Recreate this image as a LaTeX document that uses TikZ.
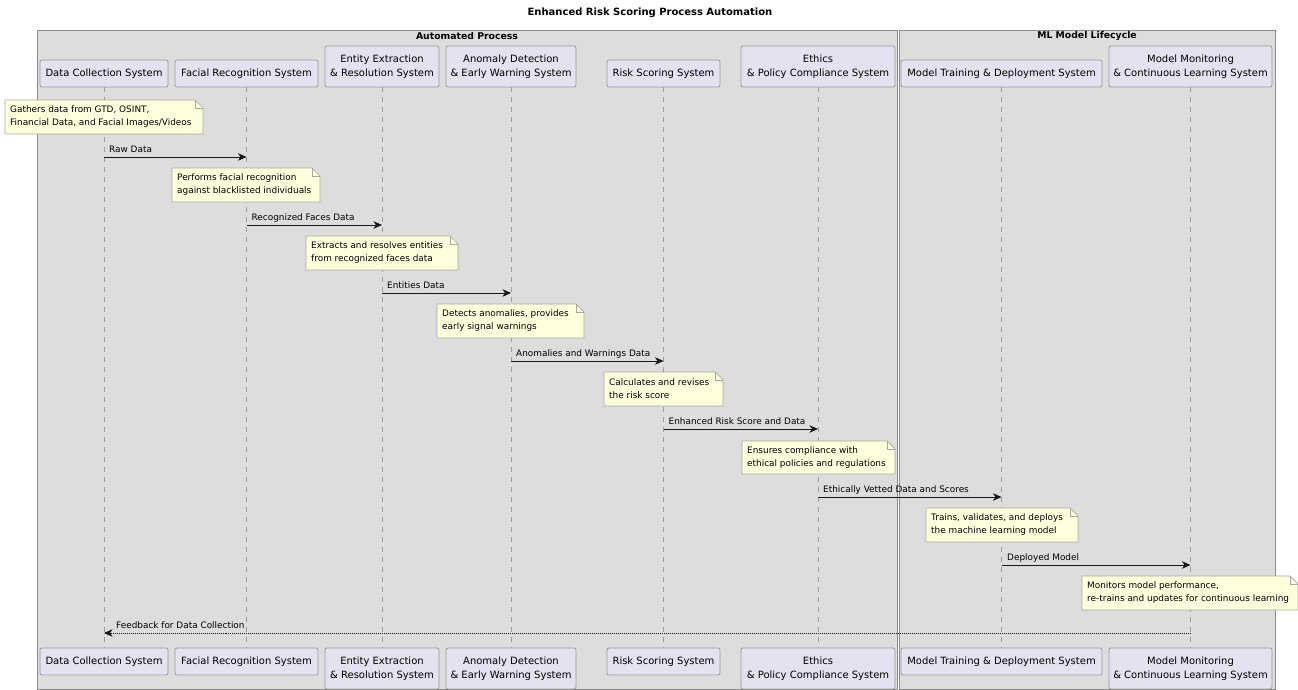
\documentclass[tikz,border=0pt]{standalone}
\usepackage{fontspec}
\setmainfont{DejaVu Sans}
\usetikzlibrary{arrows.meta}
\definecolor{partfill}{HTML}{E2E2F0}
\definecolor{partline}{HTML}{9A9A9A}
\definecolor{boxfill}{HTML}{DDDDDD}
\definecolor{boxline}{HTML}{8C8C8C}
\definecolor{notefill}{HTML}{FEFFDD}
\definecolor{noteline}{HTML}{A8A8A0}
\definecolor{lifecol}{HTML}{9C9C9C}
\definecolor{ink}{HTML}{181818}

% folded-corner note: name, x1, y1, x2, y2, text
\newcommand\foldnote[6]{%
  \path[notebody] (#2,#3) -- (#4-8,#3) -- (#4,#3+8) -- (#4,#5) -- (#2,#5) -- cycle;
  \draw[notebody, fill=none] (#4-8,#3) -- (#4-8,#3+8) -- (#4,#3+8);
  \node[notetext] (#1) at (#2+5,{(#3+#5)/2}) {#6};}

\begin{document}
\begin{tikzpicture}[x=1pt,y=-1pt,
  part/.style={draw=partline, fill=partfill, rounded corners=2pt, line width=0.8pt,
    align=center, font=\fontsize{10}{14}\selectfont, inner sep=0pt, minimum height=27pt},
  part2/.style={part, minimum height=41pt},
  msg/.style={draw=ink, line width=0.8pt, -{Stealth[length=8.5pt,width=7.5pt,inset=2.5pt]}},
  reply/.style={msg, dash pattern=on 1pt off 1pt},
  msglabel/.style={font=\fontsize{8.9}{12}\selectfont, inner sep=0pt, anchor=base west},
  notetext/.style={font=\fontsize{8.9}{13}\selectfont, align=left, inner sep=0pt, anchor=west},
  notebody/.style={fill=notefill, draw=noteline, line width=0.7pt},
  lifeline/.style={draw=lifecol, dash pattern=on 5pt off 5pt, line width=0.7pt},
  frame/.style={fill=boxfill, draw=boxline, line width=0.9pt},
  frametitle/.style={font=\bfseries\fontsize{9.3}{12}\selectfont, inner sep=0pt}]

\useasboundingbox[fill=white] (0,0) rectangle (1298,690);

% title
\node[font=\bfseries\fontsize{10}{12}\selectfont, inner sep=0pt] (title) at (650,13) {Enhanced Risk Scoring Process Automation};

% grouping boxes
\path[frame] (37,30) rectangle (897,689.5);
\path[frame] (899,30) rectangle (1275.5,689.5);
\node[frametitle] (grpA) at (467,36) {Automated Process};
\node[frametitle] (grpB) at (1087,36) {ML Model Lifecycle};

% participants, top row
\node[part, minimum width=128pt] (dcT) at (104,73.5) {Data Collection System};
\node[part, minimum width=143pt] (frT) at (246.5,73.5) {Facial Recognition System};
\node[part2, minimum width=114pt] (eeT) at (382,66.5) {Entity Extraction\\\& Resolution System};
\node[part2, minimum width=130pt] (adT) at (511,66.5) {Anomaly Detection\\\& Early Warning System};
\node[part, minimum width=113pt] (rsT) at (663.5,73.5) {Risk Scoring System};
\node[part2, minimum width=154pt] (ecT) at (818,66.5) {Ethics\\\& Policy Compliance System};
\node[part, minimum width=201pt] (mtT) at (1001.5,73.5) {Model Training \& Deployment System};
\node[part2, minimum width=163pt] (mmT) at (1190.5,66.5) {Model Monitoring\\\& Continuous Learning System};

% participants, bottom row
\node[part, minimum width=128pt] (dcB) at (104,661.5) {Data Collection System};
\node[part, minimum width=143pt] (frB) at (246.5,661.5) {Facial Recognition System};
\node[part2, minimum width=114pt] (eeB) at (382,668.5) {Entity Extraction\\\& Resolution System};
\node[part2, minimum width=130pt] (adB) at (511,668.5) {Anomaly Detection\\\& Early Warning System};
\node[part, minimum width=113pt] (rsB) at (663.5,661.5) {Risk Scoring System};
\node[part2, minimum width=154pt] (ecB) at (818,668.5) {Ethics\\\& Policy Compliance System};
\node[part, minimum width=201pt] (mtB) at (1001.5,661.5) {Model Training \& Deployment System};
\node[part2, minimum width=163pt] (mmB) at (1190.5,668.5) {Model Monitoring\\\& Continuous Learning System};

% lifelines
\foreach \p in {dc,fr,ee,ad,rs,ec,mt,mm}
  \draw[lifeline] (\p T.south) -- (\p B.north);

% notes and messages
\foldnote{n1}{5}{100}{203}{134}{Gathers data from GTD, OSINT,\\Financial Data, and Facial Images/Videos}
\draw[msg] (dcT.south |- 0,157) -- (frT.south |- 0,157);
\node[msglabel] (l1) at (109,152.5) {Raw Data};

\foldnote{n2}{172}{168}{320}{202}{Performs facial recognition\\against blacklisted individuals}
\draw[msg] (frT.south |- 0,225) -- (eeT.south |- 0,225);
\node[msglabel] (l2) at (251.5,220.5) {Recognized Faces Data};

\foldnote{n3}{306}{236}{458}{270}{Extracts and resolves entities\\from recognized faces data}
\draw[msg] (eeT.south |- 0,293) -- (adT.south |- 0,293);
\node[msglabel] (l3) at (387,288.5) {Entities Data};

\foldnote{n4}{437}{304}{584}{338}{Detects anomalies, provides\\early signal warnings}
\draw[msg] (adT.south |- 0,361) -- (rsT.south |- 0,361);
\node[msglabel] (l4) at (516,356.5) {Anomalies and Warnings Data};

\foldnote{n5}{604}{372}{723}{406}{Calculates and revises\\the risk score}
\draw[msg] (rsT.south |- 0,429) -- (ecT.south |- 0,429);
\node[msglabel] (l5) at (668.5,424.5) {Enhanced Risk Score and Data};

\foldnote{n6}{742}{441}{895}{474}{Ensures compliance with\\ethical policies and regulations}
\draw[msg] (ecT.south |- 0,497) -- (mtT.south |- 0,497);
\node[msglabel] (l6) at (823,492.5) {Ethically Vetted Data and Scores};

\foldnote{n7}{926}{508}{1078}{542}{Trains, validates, and deploys\\the machine learning model}
\draw[msg] (mtT.south |- 0,565) -- (mmT.south |- 0,565);
\node[msglabel] (l7) at (1007,560.5) {Deployed Model};

\foldnote{n8}{1082}{576}{1298}{610}{Monitors model performance,\\re-trains and updates for continuous learning}

% feedback return message
\draw[reply] (mmT.south |- 0,633) -- (dcT.south |- 0,633);
\node[msglabel] (l8) at (116,628.5) {Feedback for Data Collection};

\end{tikzpicture}
\end{document}
